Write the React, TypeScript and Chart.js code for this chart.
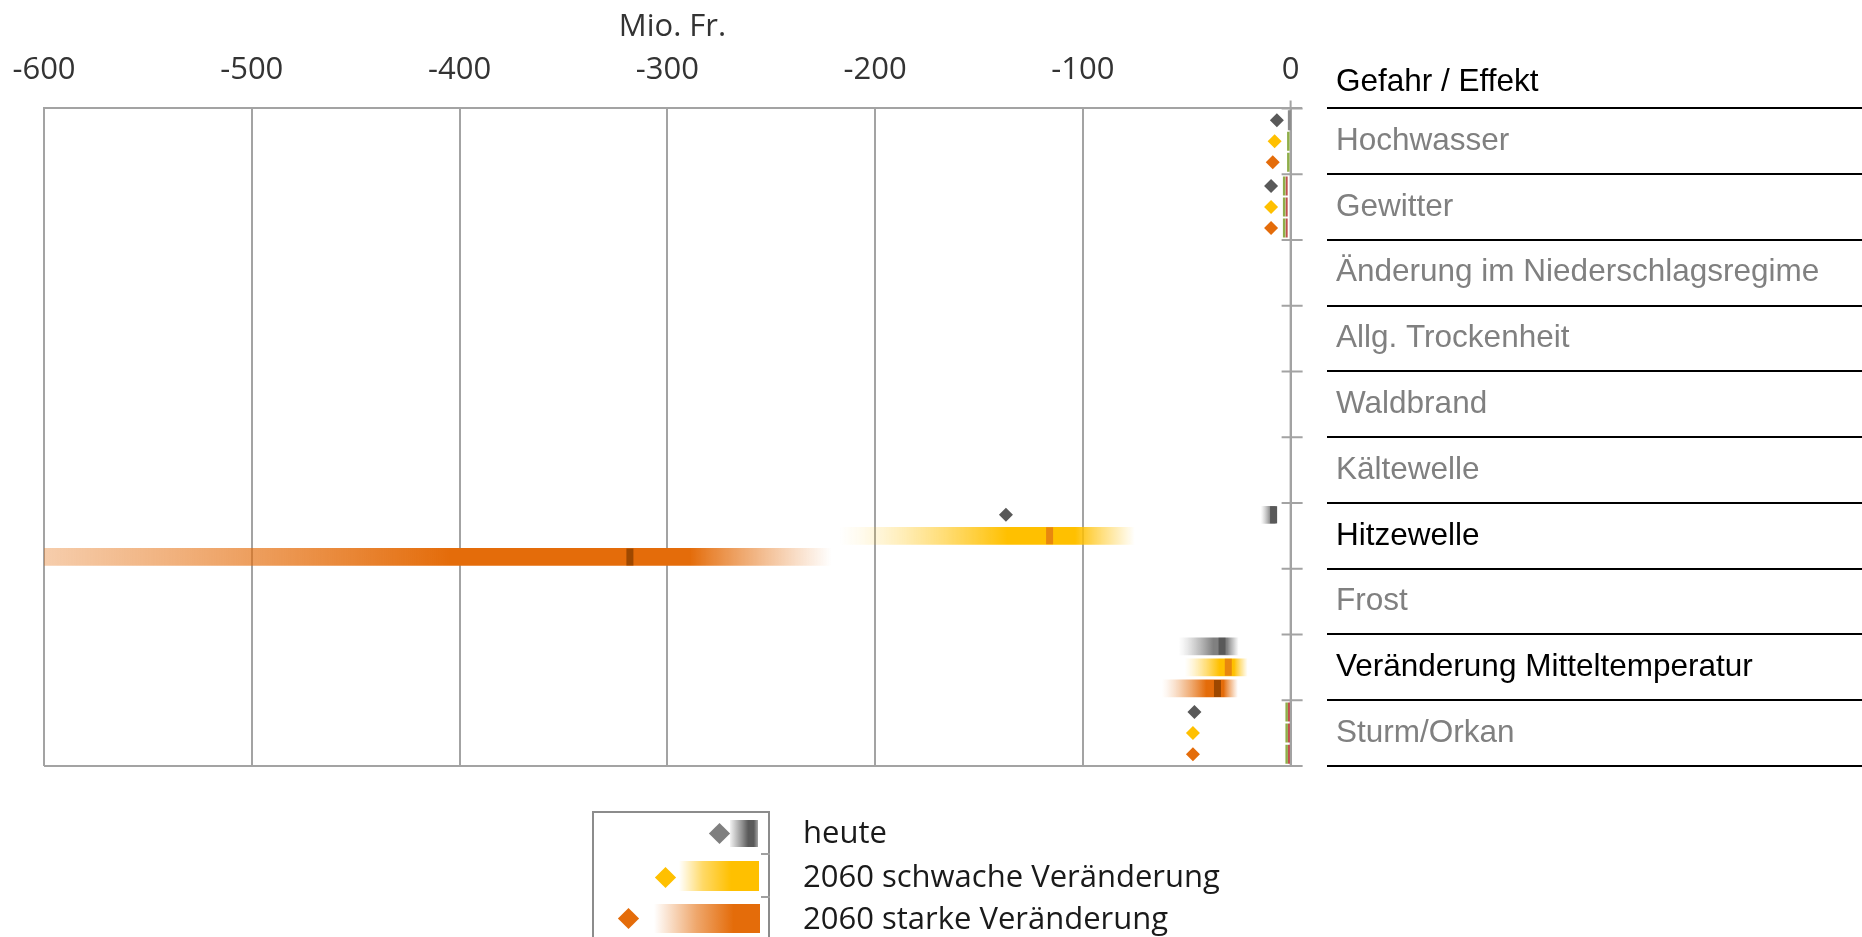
import React, { useEffect, useRef } from 'react';
import { Chart, registerables } from 'chart.js';

Chart.register(...registerables);

// ---------------- data ----------------
const categories = [
  'Hochwasser',
  'Gewitter',
  'Änderung im Niederschlagsregime',
  'Allg. Trockenheit',
  'Waldbrand',
  'Kältewelle',
  'Hitzewelle',
  'Frost',
  'Veränderung Mitteltemperatur',
  'Sturm/Orkan',
];
const emphasizedCategories = ['Hitzewelle', 'Veränderung Mitteltemperatur'];
const xTickValues = [-600, -500, -400, -300, -200, -100, 0];
const axisTitle = 'Mio. Fr.';
const tableHeader = 'Gefahr / Effekt';
const seriesLabels = ['heute', '2060 schwache Veränderung', '2060 starke Veränderung'];

// point estimates (diamonds), Mio. Fr.
const heuteDiamond = [-6.6, -9.4, null, null, null, null, -137, null, null, -46.3];
const schwachDiamond = [-7.7, -9.4, null, null, null, null, null, null, null, -47];
const starkDiamond = [-8.6, -9.4, null, null, null, null, null, null, null, -47];

// ranges (low / central / high), Mio. Fr.
const heuteLow = [null, null, null, null, null, null, -14.5, null, -54, null];
const heuteMid = [null, null, null, null, null, null, -8.2, null, -33, null];
const heuteHigh = [null, null, null, null, null, null, -6.2, null, -25, null];
const schwachLow = [null, null, null, null, null, null, -217, null, -51, null];
const schwachMid = [null, null, null, null, null, null, -116, null, -30, null];
const schwachHigh = [null, null, null, null, null, null, -75, null, -20.7, null];
const starkLow = [null, null, null, null, null, null, -750, null, -62, null];
const starkMid = [null, null, null, null, null, null, -318, null, -35.2, null];
const starkHigh = [null, null, null, null, null, null, -221, null, -25.4, null];

// tiny values close to zero (thin strokes)
const heuteGrey = [-0.6, null, null, null, null, null, null, null, null, null];
const heuteGreen = [null, -3.1, null, null, null, null, null, null, null, -1.9];
const heuteRed = [null, -1.9, null, null, null, null, null, null, null, -0.8];
const schwachGreen = [-1.1, -3.1, null, null, null, null, null, null, null, -1.9];
const schwachRed = [null, -1.9, null, null, null, null, null, null, null, -0.8];
const starkGreen = [-1.1, -3.1, null, null, null, null, null, null, null, -1.9];
const starkRed = [null, -1.9, null, null, null, null, null, null, null, -0.8];

// ---------------- styling ----------------
const FONT_UI = "'Open Sans', 'Noto Sans', sans-serif";
const FONT_TABLE = "'Liberation Sans', Arial, sans-serif";
const GRID = '#a3a3a3';
const RGB = ['128,128,128', '255,192,0', '228,108,10'];
const DIAMOND = ['#595959', '#FFC000', '#E46C0A'];
const MARK = ['#595959', '#E8870E', '#9E4800'];
const SUB = [-0.32, 0, 0.32];

type V = number | null;
const toPoints = (vals: V[], s: number) =>
  vals.flatMap((v, i) => (v == null ? [] : [{ x: v, y: i + SUB[s] }]));
const toRanges = (lo: V[], mid: V[], hi: V[], s: number) =>
  lo.flatMap((v, i) =>
    v == null ? [] : [{ x: [v, hi[i] as number], y: i + SUB[s], mid: mid[i] as number }]
  );

function rangeFill(rgb: string) {
  return (ctx: any) => {
    const chart = ctx.chart;
    const raw = ctx.raw;
    const xs = chart.scales && chart.scales.x;
    if (!raw || !xs || !chart.chartArea || !Array.isArray(raw.x)) return `rgb(${rgb})`;
    const p0 = xs.getPixelForValue(raw.x[0]);
    const p1 = xs.getPixelForValue(raw.x[1]);
    const pm = xs.getPixelForValue(raw.mid);
    if (!isFinite(p0) || !isFinite(p1) || p1 - p0 < 1) return `rgb(${rgb})`;
    const g = chart.ctx.createLinearGradient(p0, 0, p1, 0);
    const fm = Math.min(Math.max((pm - p0) / (p1 - p0), 0), 1);
    const full = fm * 0.8;
    const N = 8;
    for (let k = 0; k <= N; k++) {
      const t = k / N;
      g.addColorStop(full * t, `rgba(${rgb},${Math.pow(t, 1.3).toFixed(3)})`);
    }
    const hold = fm + (1 - fm) * 0.3;
    g.addColorStop(hold, `rgba(${rgb},1)`);
    for (let k = 1; k <= N; k++) {
      const t = k / N;
      g.addColorStop(hold + (1 - hold) * t, `rgba(${rgb},${(1 - Math.pow(t, 0.9)).toFixed(3)})`);
    }
    return g;
  };
}

const decorPlugin = {
  id: 'decor',
  beforeDatasetsDraw(chart: any) {
    const { ctx, chartArea, scales } = chart;
    const x0 = scales.x.getPixelForValue(0);
    ctx.save();
    ctx.strokeStyle = GRID;
    ctx.lineWidth = 2;
    ctx.beginPath();
    ctx.moveTo(x0, chartArea.top - 8);
    ctx.lineTo(x0, chartArea.bottom);
    for (let i = 0; i <= categories.length; i++) {
      const y = scales.y.getPixelForValue(i - 0.5);
      ctx.moveTo(x0 - 9, y);
      ctx.lineTo(x0 + 12, y);
    }
    ctx.stroke();
    ctx.restore();
  },
  afterDraw(chart: any) {
    const { ctx, chartArea, scales } = chart;
    ctx.save();
    ctx.strokeStyle = '#000';
    ctx.lineWidth = 2;
    ctx.beginPath();
    for (let i = 0; i <= categories.length; i++) {
      const y = Math.round(scales.y.getPixelForValue(i - 0.5));
      ctx.moveTo(chartArea.right + 26, y);
      ctx.lineTo(chart.width, y);
    }
    ctx.stroke();
    ctx.fillStyle = '#000';
    ctx.font = `31.5px ${FONT_TABLE}`;
    ctx.textBaseline = 'middle';
    ctx.textAlign = 'left';
    ctx.fillText(tableHeader, chartArea.right + 35, chartArea.top - 26);
    ctx.restore();
  },
};

function buildConfig(): any {
  const lows = [heuteLow, schwachLow, starkLow];
  const mids = [heuteMid, schwachMid, starkMid];
  const highs = [heuteHigh, schwachHigh, starkHigh];
  const diamonds = [heuteDiamond, schwachDiamond, starkDiamond];
  const common = { xAxisID: 'x', yAxisID: 'y' };

  const datasets: any[] = [];
  datasets.push({
    ...common, type: 'scatter', label: 'grey', order: 1,
    data: toPoints(heuteGrey, 0),
    pointStyle: 'line', rotation: 90, radius: 10, hoverRadius: 10,
    borderWidth: 3, hoverBorderWidth: 3, borderColor: '#8c8c8c', backgroundColor: '#8c8c8c',
  });
  datasets.push({
    ...common, type: 'scatter', label: 'green', order: 1,
    data: [...toPoints(heuteGreen, 0), ...toPoints(schwachGreen, 1), ...toPoints(starkGreen, 2)],
    pointStyle: 'line', rotation: 90, radius: 9.5, hoverRadius: 9.5,
    borderWidth: 2.5, hoverBorderWidth: 2.5, borderColor: '#8FAE4A', backgroundColor: '#8FAE4A',
  });
  datasets.push({
    ...common, type: 'scatter', label: 'red', order: 1,
    data: [...toPoints(heuteRed, 0), ...toPoints(schwachRed, 1), ...toPoints(starkRed, 2)],
    pointStyle: 'line', rotation: 90, radius: 9.5, hoverRadius: 9.5,
    borderWidth: 2, hoverBorderWidth: 2, borderColor: '#C0504D', backgroundColor: '#C0504D',
  });
  for (let s = 0; s < 3; s++) {
    datasets.push({
      ...common, type: 'scatter', label: seriesLabels[s] + ' (Punkt)', order: 2,
      data: toPoints(diamonds[s], s),
      pointStyle: 'rectRot', radius: 7, hoverRadius: 7, borderWidth: 0,
      backgroundColor: DIAMOND[s], borderColor: DIAMOND[s],
    });
    datasets.push({
      ...common, type: 'scatter', label: seriesLabels[s] + ' (Mittelwert)', order: 3,
      data: toPoints(mids[s], s),
      pointStyle: 'line', rotation: 90, radius: 8.5, hoverRadius: 8.5,
      borderWidth: 7, hoverBorderWidth: 7, borderColor: MARK[s], backgroundColor: MARK[s],
    });
    datasets.push({
      ...common, type: 'bar', label: seriesLabels[s], order: 4, indexAxis: 'y',
      data: toRanges(lows[s], mids[s], highs[s], s),
      backgroundColor: rangeFill(RGB[s]),
      borderWidth: 0, borderSkipped: false, grouped: false, barThickness: 17,
    });
  }

  return {
    type: 'bar',
    data: { datasets },
    plugins: [decorPlugin],
    options: {
      animation: false,
      responsive: false,
      indexAxis: 'y',
      events: [],
      layout: { padding: { left: 44, right: 0, top: 9, bottom: 171 } },
      plugins: { legend: { display: false }, tooltip: { enabled: false } },
      scales: {
        x: {
          type: 'linear', axis: 'x', position: 'top', min: -600, max: 5, offset: false,
          afterBuildTicks: (sc: any) => { sc.ticks = xTickValues.map((value) => ({ value })); },
          afterFit: (sc: any) => { sc.paddingLeft = 0; sc.paddingRight = 0; },
          ticks: {
            callback: (v: any) => String(v), color: '#333',
            font: { family: FONT_UI, size: 31 }, padding: 20, maxRotation: 0, autoSkip: false,
          },
          grid: { color: GRID, lineWidth: 2, drawTicks: false, offset: false },
          border: { display: true, color: GRID, width: 2 },
          title: {
            display: true, text: axisTitle, color: '#333',
            font: { family: FONT_UI, size: 31 }, padding: { top: 0, bottom: -15 },
          },
        },
        y: {
          type: 'linear', axis: 'y', position: 'left', min: -0.5, max: categories.length - 0.5,
          reverse: true, offset: false,
          afterBuildTicks: (sc: any) => { sc.ticks = [{ value: -0.5 }, { value: categories.length - 0.5 }]; },
          afterFit: (sc: any) => { sc.width = 0; sc.paddingTop = 0; sc.paddingBottom = 0; },
          ticks: { display: false },
          grid: { color: GRID, lineWidth: 2, drawTicks: false, offset: false },
          border: { display: false },
        },
        yCat: {
          type: 'category', axis: 'y', position: 'right', labels: categories, offset: true,
          afterFit: (sc: any) => { sc.width = 561; },
          grid: { display: false, drawTicks: false, offset: true },
          border: { display: false },
          ticks: {
            color: (c: any) => (emphasizedCategories.includes(categories[c.index]) ? '#000' : '#808080'),
            font: { family: FONT_TABLE, size: 31.5 }, padding: 35, autoSkip: false, crossAlign: 'near',
          },
        },
      },
    },
  };
}

const legendRows = [
  {
    color: '#7f7f7f', dx: 719, dy: 833, sx: 730, sw: 28, sy: 820, sh: 27, baseline: 843,
    grad: 'linear-gradient(to right, rgba(128,128,128,0.1), #8c8c8c 45%, #5a5a5a 65%, #5a5a5a 85%, #a6a6a6)',
  },
  {
    color: '#FFC000', dx: 665, dy: 877, sx: 679, sw: 80, sy: 861, sh: 30, baseline: 887,
    grad: 'linear-gradient(to right, rgba(255,192,0,0), rgba(255,192,0,0.6) 30%, #FFC000 65%, #FFC000)',
  },
  {
    color: '#E46C0A', dx: 628, dy: 918, sx: 654, sw: 106, sy: 904, sh: 29, baseline: 929,
    grad: 'linear-gradient(to right, rgba(228,108,10,0), rgba(228,108,10,0.6) 40%, #E46C0A 75%, #E46C0A)',
  },
];

function Legend() {
  return (
    <>
      <div
        style={{
          position: 'absolute', left: 592, top: 811, width: 178, height: 160,
          border: '2px solid #8c8c8c', boxSizing: 'border-box', background: '#fff',
        }}
      />
      {[854, 897].map((y) => (
        <div key={y} style={{ position: 'absolute', left: 761, top: y - 1, width: 9, height: 2, background: '#a0a0a0' }} />
      ))}
      {legendRows.map((r, i) => (
        <React.Fragment key={i}>
          <div style={{ position: 'absolute', left: r.sx, top: r.sy, width: r.sw, height: r.sh, background: r.grad }} />
          <div
            style={{
              position: 'absolute', left: r.dx - 7.5, top: r.dy - 7.5, width: 15, height: 15,
              background: r.color, transform: 'rotate(45deg)',
            }}
          />
          <div
            style={{
              position: 'absolute', left: 803, top: r.baseline - 33, fontFamily: FONT_UI, fontSize: 31,
              lineHeight: '42px', color: '#1a1a1a', whiteSpace: 'nowrap',
            }}
          >
            {seriesLabels[i]}
          </div>
        </React.Fragment>
      ))}
    </>
  );
}

export default function App() {
  const ref = useRef<HTMLCanvasElement>(null);
  useEffect(() => {
    if (!ref.current) return;
    const chart = new Chart(ref.current, buildConfig());
    return () => chart.destroy();
  }, []);
  return (
    <div
      style={{
        position: 'fixed', left: 0, top: 0, width: 1862, height: 937,
        overflow: 'hidden', background: '#fff',
      }}
    >
      <canvas
        ref={ref}
        width={1862}
        height={937}
        style={{ position: 'absolute', left: 0, top: 0, width: 1862, height: 937 }}
      />
      <Legend />
    </div>
  );
}
